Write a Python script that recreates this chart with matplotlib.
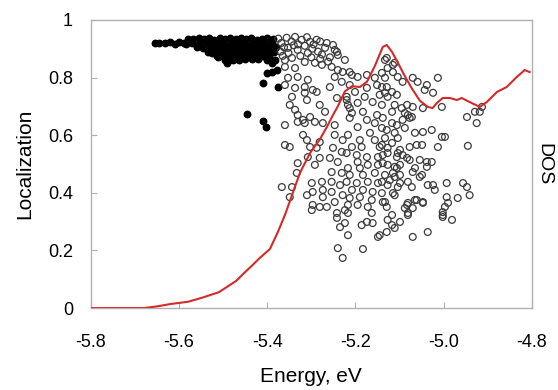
import matplotlib
matplotlib.use("Agg")
import matplotlib.pyplot as plt

plt.rcParams['font.family'] = ['Liberation Sans', 'DejaVu Sans']

# DOS curve (drawn in localization units)
dos_energy = [-5.80, -5.68, -5.65, -5.62, -5.58, -5.55, -5.51, -5.49, -5.47, -5.455,
              -5.433, -5.417, -5.394, -5.376, -5.36, -5.349, -5.326, -5.303, -5.281, -5.265,
              -5.251, -5.24, -5.224, -5.208, -5.19, -5.174, -5.156, -5.138, -5.129, -5.117,
              -5.104, -5.088, -5.072, -5.054, -5.036, -5.025, -5.015, -5.002, -4.986, -4.97,
              -4.959, -4.941, -4.918, -4.902, -4.879, -4.857, -4.834, -4.816, -4.805]
dos_value = [0, 0, 0.006, 0.014, 0.022, 0.035, 0.055, 0.075, 0.095, 0.118,
             0.15, 0.174, 0.205, 0.264, 0.323, 0.37, 0.469, 0.538, 0.585, 0.628,
             0.67, 0.70, 0.752, 0.77, 0.767, 0.785, 0.84, 0.906, 0.913, 0.889,
             0.852, 0.805, 0.762, 0.72, 0.698, 0.694, 0.712, 0.729, 0.729, 0.722,
             0.729, 0.715, 0.698, 0.715, 0.75, 0.767, 0.802, 0.826, 0.819]

# localized states (filled dots)
filled_states = [
    (-5.655, 0.92), (-5.645, 0.921), (-5.632, 0.919), (-5.62, 0.922), (-5.61, 0.918),
    (-5.60, 0.923), (-5.59, 0.92),
    (-5.58, 0.935), (-5.568, 0.932), (-5.556, 0.937), (-5.544, 0.933), (-5.532, 0.936),
    (-5.52, 0.931), (-5.508, 0.937), (-5.496, 0.934), (-5.484, 0.936), (-5.472, 0.932),
    (-5.46, 0.937), (-5.448, 0.933), (-5.436, 0.936), (-5.424, 0.931), (-5.412, 0.935),
    (-5.40, 0.938), (-5.388, 0.932),
    (-5.585, 0.918), (-5.57, 0.921), (-5.555, 0.917), (-5.54, 0.922), (-5.525, 0.918),
    (-5.51, 0.921), (-5.495, 0.917), (-5.48, 0.92), (-5.465, 0.918), (-5.45, 0.921),
    (-5.435, 0.917), (-5.42, 0.92), (-5.405, 0.918), (-5.39, 0.921),
    (-5.56, 0.906), (-5.545, 0.904), (-5.53, 0.907), (-5.515, 0.903), (-5.50, 0.906),
    (-5.485, 0.904), (-5.47, 0.907), (-5.455, 0.903), (-5.44, 0.906), (-5.425, 0.904),
    (-5.41, 0.907), (-5.395, 0.903), (-5.38, 0.905),
    (-5.535, 0.89), (-5.52, 0.888), (-5.505, 0.891), (-5.49, 0.889), (-5.475, 0.887),
    (-5.46, 0.89), (-5.445, 0.888), (-5.43, 0.891), (-5.415, 0.888), (-5.40, 0.89),
    (-5.385, 0.887),
    (-5.515, 0.876), (-5.50, 0.874), (-5.485, 0.877), (-5.47, 0.873), (-5.455, 0.876),
    (-5.44, 0.875), (-5.425, 0.877), (-5.41, 0.874), (-5.395, 0.876),
    (-5.526, 0.885), (-5.512, 0.872), (-5.497, 0.862), (-5.488, 0.858), (-5.478, 0.862),
    (-5.465, 0.862), (-5.45, 0.866), (-5.435, 0.863), (-5.42, 0.866), (-5.492, 0.851),
    (-5.40, 0.86), (-5.39, 0.852), (-5.382, 0.862),
    (-5.401, 0.816), (-5.390, 0.819), (-5.378, 0.826), (-5.410, 0.781), (-5.376, 0.767),
    (-5.446, 0.674), (-5.410, 0.649), (-5.403, 0.628),
]

# delocalized states (open circles)
open_states = [
    (-5.375, 0.935), (-5.368, 0.92), (-5.362, 0.905), (-5.37, 0.89), (-5.345, 0.925),
    (-5.33, 0.915), (-5.315, 0.91), (-5.295, 0.915), (-5.28, 0.925), (-5.265, 0.92),
    (-5.36, 0.86), (-5.325, 0.875), (-5.30, 0.87), (-5.28, 0.865), (-5.242, 0.889),
    (-5.276, 0.88), (-5.258, 0.87), (-5.24, 0.878), (-5.365, 0.875), (-5.352, 0.885),
    (-5.34, 0.912), (-5.31, 0.94), (-5.298, 0.9), (-5.285, 0.89), (-5.262, 0.855),
    (-5.356, 0.938), (-5.337, 0.941), (-5.322, 0.931), (-5.303, 0.924), (-5.288, 0.931),
    (-5.269, 0.903), (-5.251, 0.913), (-5.247, 0.896), (-5.353, 0.903), (-5.331, 0.896),
    (-5.308, 0.885), (-5.344, 0.868), (-5.315, 0.854), (-5.292, 0.851), (-5.360, 0.837),
    (-5.337, 0.833), (-5.276, 0.844), (-5.254, 0.837), (-5.240, 0.826), (-5.224, 0.861),
    (-5.229, 0.819), (-5.208, 0.809), (-5.353, 0.799), (-5.331, 0.802), (-5.308, 0.792),
    (-5.247, 0.802), (-5.231, 0.785), (-5.360, 0.774), (-5.337, 0.764), (-5.315, 0.767),
    (-5.297, 0.757), (-5.258, 0.767), (-5.344, 0.733), (-5.315, 0.747), (-5.288, 0.750),
    (-5.310, 0.722), (-5.242, 0.729), (-5.220, 0.733), (-5.349, 0.705), (-5.337, 0.688),
    (-5.281, 0.705), (-5.269, 0.681), (-5.331, 0.670), (-5.303, 0.663), (-5.217, 0.705),
    (-5.208, 0.677), (-5.319, 0.653),
    (-5.129, 0.868), (-5.111, 0.851), (-5.127, 0.833), (-5.140, 0.816), (-5.115, 0.819),
    (-5.213, 0.819), (-5.195, 0.802), (-5.174, 0.809), (-5.156, 0.799), (-5.133, 0.799),
    (-5.104, 0.802), (-5.070, 0.799), (-5.059, 0.785), (-5.013, 0.799), (-5.093, 0.785),
    (-5.213, 0.774), (-5.174, 0.764), (-5.151, 0.774), (-5.129, 0.767), (-5.117, 0.750),
    (-5.038, 0.774), (-5.043, 0.757), (-5.024, 0.747), (-5.201, 0.750), (-5.145, 0.740),
    (-5.127, 0.733), (-5.106, 0.740), (-5.179, 0.733), (-5.195, 0.712), (-5.161, 0.715),
    (-5.140, 0.705), (-5.111, 0.705), (-5.083, 0.705), (-5.070, 0.698), (-5.047, 0.694),
    (-5.004, 0.698), (-5.220, 0.722), (-5.213, 0.694), (-5.183, 0.681), (-5.117, 0.681),
    (-5.088, 0.677), (-5.072, 0.663), (-5.151, 0.670),
    (-4.947, 0.663), (-4.929, 0.681), (-4.918, 0.681), (-4.913, 0.698), (-4.925, 0.642),
    (-4.997, 0.594), (-5.027, 0.618), (-5.047, 0.611), (-5.065, 0.608), (-5.081, 0.670),
    (-5.095, 0.694), (-5.093, 0.653), (-5.088, 0.625), (-5.106, 0.635), (-5.111, 0.608),
    (-5.129, 0.618), (-5.133, 0.590), (-5.104, 0.590), (-5.061, 0.566), (-5.049, 0.566),
    (-5.077, 0.559), (-5.013, 0.559), (-4.945, 0.563), (-5.127, 0.556), (-5.099, 0.549),
    (-5.093, 0.531), (-5.106, 0.524), (-5.054, 0.514), (-5.038, 0.507), (-5.027, 0.507),
    (-5.077, 0.514), (-5.138, 0.531), (-5.127, 0.497), (-5.111, 0.490), (-5.133, 0.861),
    (-5.115, 0.844), (-5.140, 0.767), (-5.133, 0.747), (-5.138, 0.660), (-5.117, 0.573),
    (-5.140, 0.566),
    (-5.127, 0.538), (-5.104, 0.538), (-5.083, 0.521), (-5.038, 0.490), (-5.138, 0.503),
    (-5.099, 0.497), (-5.070, 0.472), (-5.049, 0.462), (-5.133, 0.462), (-5.115, 0.469),
    (-5.099, 0.462), (-5.081, 0.438), (-5.140, 0.438), (-5.122, 0.444), (-5.099, 0.434),
    (-5.072, 0.420), (-5.036, 0.427), (-5.024, 0.427), (-5.020, 0.410), (-4.993, 0.434),
    (-4.956, 0.434), (-4.947, 0.420), (-4.941, 0.392), (-4.968, 0.382), (-4.993, 0.385),
    (-5.115, 0.399), (-5.133, 0.368), (-5.061, 0.375), (-5.047, 0.368), (-5.083, 0.358),
    (-5.070, 0.347), (-5.081, 0.330), (-4.997, 0.351), (-4.990, 0.365), (-5.002, 0.323),
    (-4.981, 0.306), (-5.117, 0.323), (-5.127, 0.306), (-5.099, 0.299), (-5.117, 0.288),
    (-5.111, 0.278), (-5.129, 0.264), (-5.070, 0.247), (-5.036, 0.264), (-5.145, 0.253),
    (-5.213, 0.660), (-5.195, 0.628), (-5.174, 0.653), (-5.156, 0.642), (-5.140, 0.625),
    (-5.117, 0.642), (-5.077, 0.660), (-5.004, 0.594), (-5.217, 0.601), (-5.190, 0.583),
    (-5.167, 0.608), (-5.156, 0.583), (-5.208, 0.559), (-5.186, 0.559), (-5.145, 0.559),
    (-5.220, 0.538), (-5.197, 0.531), (-5.174, 0.524), (-5.149, 0.524), (-5.195, 0.507),
    (-5.172, 0.497), (-5.217, 0.486), (-5.190, 0.486), (-5.149, 0.497), (-5.106, 0.486),
    (-5.065, 0.486), (-5.213, 0.462), (-5.183, 0.462), (-5.156, 0.469), (-5.111, 0.455),
    (-5.054, 0.455), (-5.220, 0.438), (-5.197, 0.434), (-5.172, 0.438), (-5.149, 0.434),
    (-5.127, 0.427), (-5.104, 0.420), (-5.208, 0.410), (-5.183, 0.410), (-5.161, 0.403),
    (-5.140, 0.399), (-5.111, 0.392), (-5.213, 0.382), (-5.190, 0.385), (-5.163, 0.375),
    (-5.138, 0.368), (-5.081, 0.365), (-5.065, 0.375), (-5.195, 0.358), (-5.172, 0.351),
    (-5.129, 0.351), (-5.088, 0.347), (-5.047, 0.365),
    (-5.360, 0.635), (-5.331, 0.646), (-5.315, 0.642), (-5.292, 0.646), (-5.274, 0.642),
    (-5.319, 0.601), (-5.360, 0.566), (-5.349, 0.559), (-5.310, 0.583), (-5.303, 0.559),
    (-5.288, 0.556), (-5.281, 0.576), (-5.331, 0.503), (-5.308, 0.524), (-5.281, 0.521),
    (-5.292, 0.497), (-5.333, 0.469), (-5.367, 0.420), (-5.344, 0.420), (-5.349, 0.385),
    (-5.299, 0.434), (-5.276, 0.438), (-5.310, 0.392), (-5.297, 0.403), (-5.274, 0.410),
    (-5.297, 0.358), (-5.274, 0.385), (-5.247, 0.635), (-5.247, 0.601), (-5.229, 0.583),
    (-5.251, 0.556), (-5.231, 0.542), (-5.258, 0.521), (-5.240, 0.507), (-5.254, 0.472),
    (-5.231, 0.469), (-5.254, 0.438), (-5.235, 0.427), (-5.254, 0.403), (-5.229, 0.392),
    (-5.247, 0.368), (-5.217, 0.358), (-5.265, 0.351),
    (-5.299, 0.340), (-5.281, 0.351), (-5.242, 0.330), (-5.242, 0.313), (-5.224, 0.340),
    (-5.217, 0.330), (-5.163, 0.330), (-5.224, 0.295), (-5.235, 0.281), (-5.186, 0.288),
    (-5.174, 0.299), (-5.161, 0.295), (-5.081, 0.323), (-5.217, 0.253), (-5.149, 0.247),
    (-5.240, 0.208), (-5.183, 0.205), (-5.229, 0.174), (-5.002, 0.333), (-5.002, 0.316),
]

x_ticks = [-5.8, -5.6, -5.4, -5.2, -5.0, -4.8]
x_tick_labels = ["-5.8", "-5.6", "-5.4", "-5.2", "-5.0", "-4.8"]
y_ticks = [0, 0.2, 0.4, 0.6, 0.8, 1.0]
y_tick_labels = ["0", "0.2", "0.4", "0.6", "0.8", "1"]

fig = plt.figure(figsize=(5.58, 3.9), dpi=100)
ax = fig.add_axes([0.163, 0.21, 0.79, 0.739])

oe, ol = zip(*open_states)
fe, fl = zip(*filled_states)
ax.scatter(fe, fl, s=32, color='black', linewidths=0, zorder=2)
ax.scatter(oe, ol, s=24, facecolors='none', edgecolors='#3a3a3a', linewidths=0.9, zorder=3)
ax.plot(dos_energy, dos_value, color='#d42a2a', linewidth=1.5, zorder=4)

ax.set_xlim(-5.8, -4.8)
ax.set_ylim(0, 1)
ax.set_xticks(x_ticks)
ax.set_xticklabels(x_tick_labels)
ax.set_yticks(y_ticks)
ax.set_yticklabels(y_tick_labels)
ax.tick_params(axis='x', direction='in', length=4, color='#b0b0b0', labelsize=13, pad=19)
ax.tick_params(axis='y', direction='in', length=4, color='#b0b0b0', labelsize=13, pad=13)
for side in ax.spines.values():
    side.set_color('#b0b0b0')
    side.set_linewidth(1.0)

ax.set_xlabel('Energy, eV', fontsize=15, labelpad=11)
ax.set_ylabel('Localization', fontsize=15, labelpad=10)
ax.text(1.027, 0.5, 'DOS', rotation=-90, transform=ax.transAxes,
        ha='center', va='center', fontsize=14)

fig.savefig('out.png', dpi=100)
